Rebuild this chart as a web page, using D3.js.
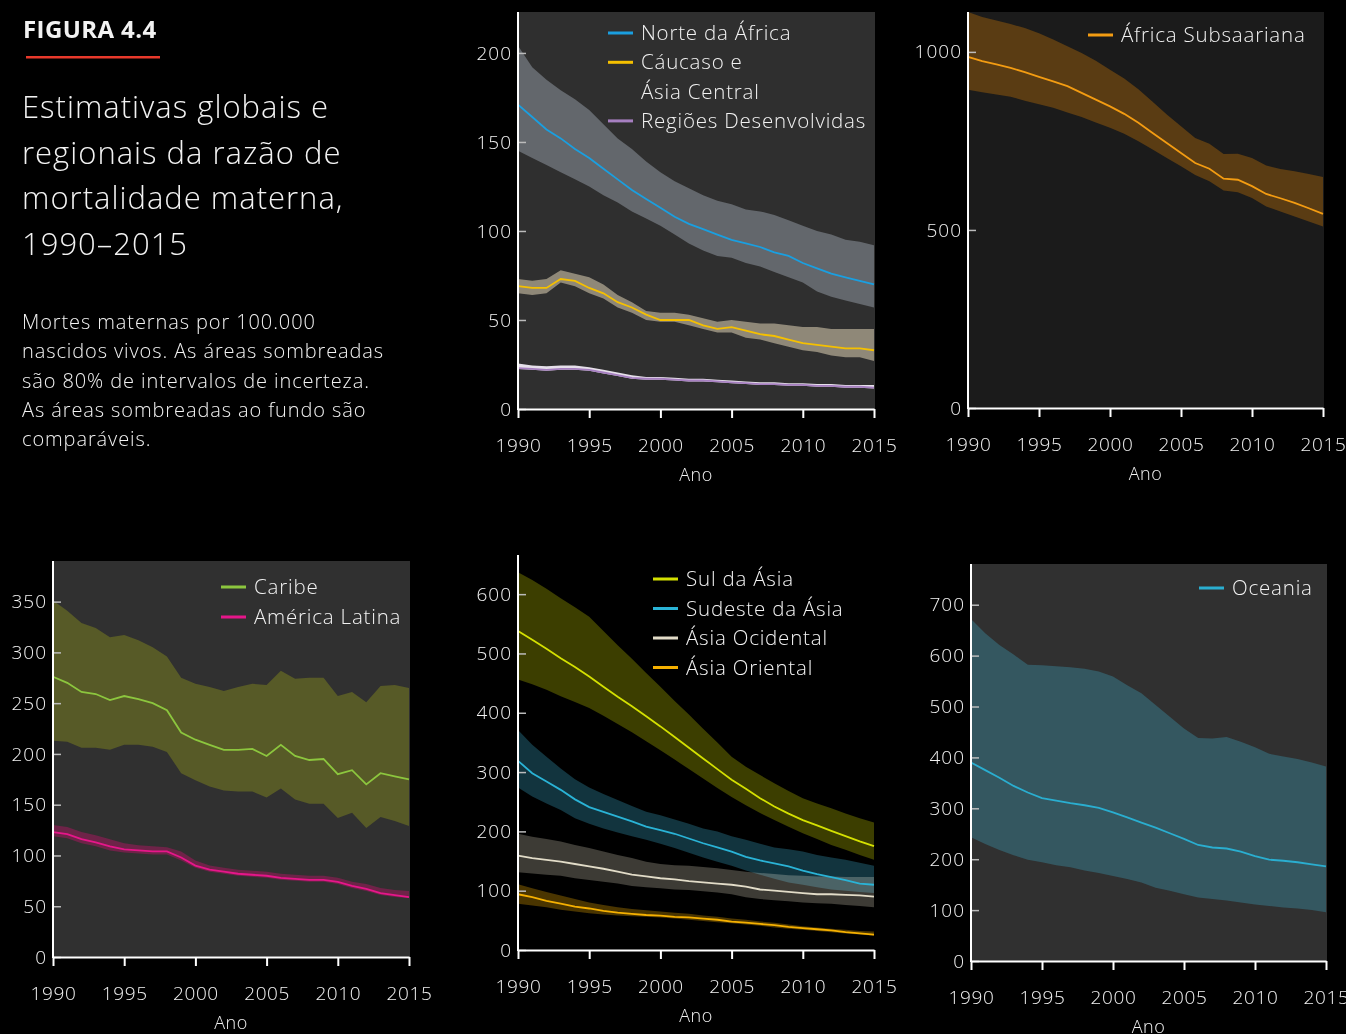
<!DOCTYPE html>
<html>
<head>
<meta charset="utf-8">
<script src="https://cdn.jsdelivr.net/npm/d3@7"></script>
<style>
  body { margin: 0; background: #000; }
  svg text { font-family: "Open Sans", Lato, sans-serif; fill: #f2f2f2; }
</style>
</head>
<body>
<script>
// Years 1990..2015
const years = d3.range(1990, 2016);

// Norte da África
const nafMid = [171,164,157,152,146,141,135,129,123,118,113,108,104,101,98,95,93,91,88,86,82,79,76,74,72,70];
const nafHi  = [204,192,185,179,174,168,160,152,146,139,133,128,124,120,117,115,112,111,109,106,103,100,98,95,94,92];
const nafLo  = [145,141,137,133,129,125,120,116,111,107,103,98,93,89,86,85,82,80,77,74,71,66,63,61,59,57];
// Cáucaso e Ásia Central
const cauMid = [69,68,68,73,72,68,65,60,57,53,50,50,50,47,45,46,44,42,41,39,37,36,35,34,34,33];
const cauHi  = [73,72,73,78,76,74,70,64,60,55,54,54,53,51,49,50,49,48,48,47,46,46,45,45,45,45];
const cauLo  = [65,64,65,71,69,65,62,57,54,50,49,49,47,45,43,43,40,39,37,35,33,32,30,29,29,27];
// Regiões Desenvolvidas
const devMid = [23,22.5,22,22.5,22.5,22,20.5,19,17.5,17,17,16.5,16,16,15.5,15,14.5,14,14,13.5,13.5,13,13,12.5,12.5,12];
const devHi  = [25.5,24.5,24,24.5,24.5,23.5,22,20.5,19,18,18,17.5,17,17,16.5,16,15.5,15,15,14.5,14.5,14,14,13.5,13.5,13.5];
const devLo  = [22.5,22,21.5,22,22,21.5,20,18.5,17,16.5,16.5,16,15.5,15.5,15,14.5,14,13.5,13.5,13,13,12.5,12.5,12,12,11.5];
// África Subsaariana
const ssaMid = [986,974,965,955,943,930,917,904,885,866,847,826,801,772,744,716,688,672,644,641,623,601,589,576,561,545];
const ssaHi  = [1112,1098,1088,1078,1067,1052,1035,1016,997,975,950,925,895,860,824,791,758,742,713,714,702,681,671,665,657,649];
const ssaLo  = [894,887,880,874,863,853,843,830,817,802,787,770,749,726,702,679,654,637,611,606,590,566,552,538,524,510];
// Caribe
const carMid = [276,270,261,259,253,257,254,250,243,221,214,209,204,204,205,198,209,198,194,195,180,184,170,181,178,175];
const carHi  = [351,341,329,324,315,317,312,305,296,275,269,266,262,266,269,268,282,274,275,275,257,261,251,267,268,265];
const carLo  = [213,212,206,206,204,209,209,207,202,181,174,168,164,163,163,157,166,155,151,151,137,142,127,138,134,129];
// América Latina
const latMid = [123,121,116,113,109,106,105,104,104,98,90,86,84,82,81,80,78,77,76,76,74,70,67,63,61,59];
const latHi  = [130,128,123,120,116,112,110,109,108,104,95,90,88,86,85,84,82,81,80,80,78,74,72,68,66,65];
const latLo  = [119,117,112,109,105,103,102,101,101,95,88,84,82,80,79,78,76,75,74,74,72,68,65,61,59,58];
// Sul da Ásia
const sasMid = [538,523,508,492,477,461,444,427,411,394,377,359,341,323,305,287,272,256,242,230,219,210,201,192,183,175];
const sasHi  = [637,624,609,593,578,562,538,514,491,467,444,420,397,373,350,326,309,295,281,268,256,247,239,230,222,215];
const sasLo  = [456,448,439,428,418,408,395,381,367,352,337,321,305,289,273,258,244,231,219,208,197,187,177,169,160,152];
// Sudeste da Ásia
const seaMid = [319,298,284,270,254,241,233,225,217,208,202,196,188,180,173,166,157,151,146,141,134,128,123,118,112,110];
const seaHi  = [371,346,326,306,288,274,263,253,243,233,227,220,213,205,200,192,186,179,173,170,166,160,156,152,147,142];
const seaLo  = [274,259,247,236,222,213,205,198,192,186,179,172,164,156,149,142,134,127,120,114,110,106,102,100,98,96];
// Ásia Ocidental
const wasMid = [159,155,152,149,145,141,137,132,127,124,121,119,116,114,112,110,107,102,100,98,96,94,94,93,92,90];
const wasHi  = [196,191,187,183,177,172,166,160,155,149,145,143,142,140,138,135,132,130,128,126,125,124,124,123,123,123];
const wasLo  = [131,129,127,125,121,118,115,112,108,106,104,102,101,99,97,94,89,86,84,82,80,79,78,76,74,72];
// Ásia Oriental
const easMid = [94,89,83,78,73,70,66,63,61,59,58,56,55,53,51,48,46,44,42,39,37,35,33,30,28,26];
const easHi  = [111,104,98,92,86,80,76,72,69,67,65,63,61,58,56,53,51,48,46,43,40,38,36,34,32,31];
const easLo  = [78,75,72,68,65,62,60,58,57,56,55,53,51,49,47,45,43,41,38,36,34,32,30,28,26,24];
// Oceania
const oceMid = [390,375,360,344,331,320,315,310,306,301,292,282,272,262,251,240,228,223,221,215,206,199,197,194,190,186];
const oceHi  = [672,644,621,602,582,581,579,577,574,569,559,542,526,503,480,457,438,437,440,431,420,407,402,397,390,382];
const oceLo  = [243,230,218,208,199,194,188,184,178,173,167,161,154,144,138,131,125,122,119,115,111,108,105,103,100,96];

const xTicks = [1990, 1995, 2000, 2005, 2010, 2015];

const svg = d3.select('body').append('svg')
  .attr('width', 1346)
  .attr('height', 1034);

// Left text block
svg.append('text').attr('x', 23).attr('y', 38)
  .style('font-size', '24px').style('font-weight', 700).style('letter-spacing', '0.4px')
  .text('FIGURA 4.4');
svg.append('rect').attr('x', 26).attr('y', 56).attr('width', 134).attr('height', 2.5).attr('fill', '#e8392b');

const titleLines = ['Estimativas globais e', 'regionais da razão de', 'mortalidade materna,', '1990–2015'];
svg.append('g').selectAll('text').data(titleLines).join('text')
  .attr('x', 22).attr('y', (d, i) => 118 + i * 45.5)
  .style('font-size', '31px').style('font-weight', 300).style('letter-spacing', '1px')
  .text(d => d);

const noteLines = ['Mortes maternas por 100.000', 'nascidos vivos. As áreas sombreadas',
  'são 80% de intervalos de incerteza.', 'As áreas sombreadas ao fundo são', 'comparáveis.'];
svg.append('g').selectAll('text').data(noteLines).join('text')
  .attr('x', 22).attr('y', (d, i) => 329 + i * 29.3)
  .style('font-size', '20px').style('font-weight', 300).style('letter-spacing', '0.9px')
  .text(d => d);

function panel(cfg)
{
  const x = d3.scaleLinear().domain([1990, 2015]).range([cfg.x0, cfg.x1]);
  const y = d3.scaleLinear().domain([0, cfg.yMax]).range([cfg.y0, cfg.yTop]);
  const g = svg.append('g');

  if (cfg.bg)
  {
    g.append('rect')
      .attr('x', cfg.x0).attr('y', cfg.yTop)
      .attr('width', cfg.x1 - cfg.x0 + 1).attr('height', cfg.y0 - cfg.yTop)
      .attr('fill', cfg.bg);
  }

  const area = d3.area()
    .x((d, i) => x(years[i]))
    .y0(d => y(d[0]))
    .y1(d => y(d[1]));
  const line = d3.line()
    .x((d, i) => x(years[i]))
    .y(d => y(d));

  cfg.series.forEach((s) =>
  {
    g.append('path')
      .datum(s.lo.map((v, i) => [v, s.hi[i]]))
      .attr('d', area)
      .attr('fill', s.band)
      .style('mix-blend-mode', cfg.blend ? 'screen' : null);
  });
  cfg.series.forEach((s) =>
  {
    g.append('path')
      .datum(s.mid)
      .attr('d', line)
      .attr('fill', 'none')
      .attr('stroke', s.color)
      .attr('stroke-width', 1.8);
  });

  // y axis
  const yAxis = g.append('g')
    .attr('transform', 'translate(' + cfg.x0 + ',0)')
    .call(d3.axisLeft(y).tickValues(cfg.yTicks).tickFormat(d3.format('d'))
      .tickSizeInner(-8).tickSizeOuter(0).tickPadding(6));
  yAxis.select('.domain').remove();
  yAxis.selectAll('.tick line').attr('stroke', '#bbbbbb').attr('stroke-width', 1.5);
  yAxis.selectAll('.tick text').style('font-size', '19px').style('font-weight', 300)
    .style('letter-spacing', '1px').attr('fill', '#eeeeee').attr('x', -6);
  g.append('line')
    .attr('x1', cfg.x0).attr('x2', cfg.x0)
    .attr('y1', cfg.axisTop).attr('y2', cfg.y0 + 1)
    .attr('stroke', '#ffffff').attr('stroke-width', 2);

  // x axis
  const xAxis = g.append('g')
    .attr('transform', 'translate(0,' + cfg.y0 + ')')
    .call(d3.axisBottom(x).tickValues(xTicks).tickFormat(d3.format('d'))
      .tickSizeInner(9).tickSizeOuter(0).tickPadding(21));
  xAxis.select('.domain').attr('stroke', '#ffffff').attr('stroke-width', 2);
  xAxis.selectAll('.tick line').attr('stroke', '#ffffff').attr('stroke-width', 2);
  xAxis.selectAll('.tick text').style('font-size', '19px').style('font-weight', 300)
    .style('letter-spacing', '0.6px').attr('fill', '#eeeeee');

  g.append('text')
    .attr('x', (cfg.x0 + cfg.x1) / 2).attr('y', cfg.y0 + 72)
    .attr('text-anchor', 'middle')
    .style('font-size', '18px').style('font-weight', 300).style('letter-spacing', '0.5px')
    .text('Ano');

  // legend
  cfg.legend.forEach((l, i) =>
  {
    const ly = cfg.legY + i * cfg.legStep;
    if (l.color)
    {
      g.append('line')
        .attr('x1', cfg.legX).attr('x2', cfg.legX + 25)
        .attr('y1', ly).attr('y2', ly)
        .attr('stroke', l.color).attr('stroke-width', 3);
    }
    g.append('text')
      .attr('x', cfg.legX + 33).attr('y', ly + 7)
      .style('font-size', '20.5px').style('font-weight', 300).style('letter-spacing', '0.8px')
      .text(l.label);
  });
}

panel({
  x0: 518, x1: 874, yTop: 12, y0: 409, yMax: 223, axisTop: 12, bg: '#2f2f2f',
  yTicks: [0, 50, 100, 150, 200],
  series: [
    {mid: nafMid, hi: nafHi, lo: nafLo, color: '#1a9fe0', band: '#63676c'},
    {mid: cauMid, hi: cauHi, lo: cauLo, color: '#f5c000', band: '#8f8878'},
    {mid: devMid, hi: devHi, lo: devLo, color: '#a67fc0', band: '#e6e0ea'}
  ],
  legX: 608, legY: 33, legStep: 29.3,
  legend: [
    {label: 'Norte da África', color: '#1a9fe0'},
    {label: 'Cáucaso e', color: '#f5c000'},
    {label: 'Ásia Central'},
    {label: 'Regiões Desenvolvidas', color: '#a67fc0'}
  ]
});

panel({
  x0: 968, x1: 1323, yTop: 12, y0: 408, yMax: 1112, axisTop: 12, bg: '#1b1b1b',
  yTicks: [0, 500, 1000],
  series: [
    {mid: ssaMid, hi: ssaHi, lo: ssaLo, color: '#f39c12', band: '#5a3c13'}
  ],
  legX: 1088, legY: 35, legStep: 29.3,
  legend: [{label: 'África Subsaariana', color: '#f39c12'}]
});

panel({
  x0: 53, x1: 409, yTop: 561, y0: 957, yMax: 390, axisTop: 561, bg: '#303030',
  yTicks: [0, 50, 100, 150, 200, 250, 300, 350],
  series: [
    {mid: carMid, hi: carHi, lo: carLo, color: '#8cc63e', band: '#575a27'},
    {mid: latMid, hi: latHi, lo: latLo, color: '#e6168a', band: '#6e2348'}
  ],
  legX: 221, legY: 587, legStep: 30,
  legend: [
    {label: 'Caribe', color: '#8cc63e'},
    {label: 'América Latina', color: '#e6168a'}
  ]
});

panel({
  x0: 518, x1: 874, yTop: 555, y0: 950, yMax: 666, axisTop: 555, bg: null, blend: true,
  yTicks: [0, 100, 200, 300, 400, 500, 600],
  series: [
    {mid: sasMid, hi: sasHi, lo: sasLo, color: '#d4e000', band: '#3c3e00'},
    {mid: seaMid, hi: seaHi, lo: seaLo, color: '#2ab3d6', band: '#12343e'},
    {mid: wasMid, hi: wasHi, lo: wasLo, color: '#e2dcc8', band: '#3d3b35'},
    {mid: easMid, hi: easHi, lo: easLo, color: '#f5b000', band: '#4a3500'}
  ],
  legX: 653, legY: 579, legStep: 29.5,
  legend: [
    {label: 'Sul da Ásia', color: '#d4e000'},
    {label: 'Sudeste da Ásia', color: '#2ab3d6'},
    {label: 'Ásia Ocidental', color: '#e2dcc8'},
    {label: 'Ásia Oriental', color: '#f5b000'}
  ]
});

panel({
  x0: 971, x1: 1326, yTop: 564, y0: 961, yMax: 780, axisTop: 564, bg: '#303030',
  yTicks: [0, 100, 200, 300, 400, 500, 600, 700],
  series: [
    {mid: oceMid, hi: oceHi, lo: oceLo, color: '#2aaed0', band: '#345760'}
  ],
  legX: 1199, legY: 588, legStep: 30,
  legend: [{label: 'Oceania', color: '#2aaed0'}]
});
</script>
</body>
</html>
